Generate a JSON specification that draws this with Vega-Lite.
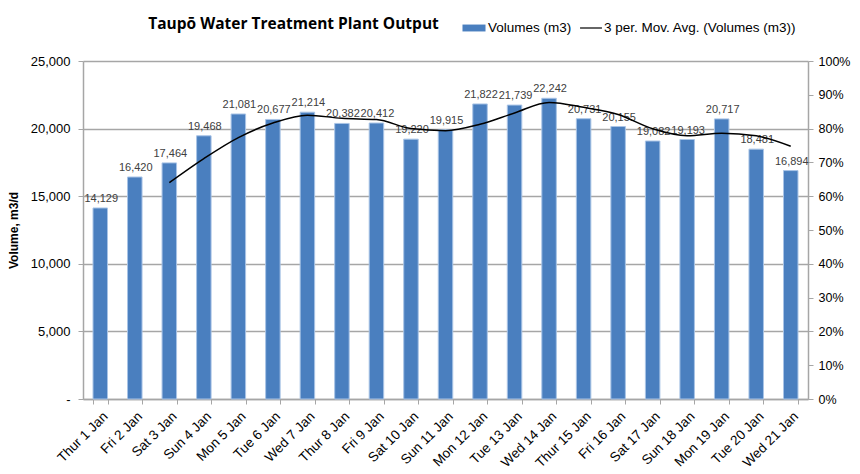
{
  "$schema": "https://vega.github.io/schema/vega-lite/v6.json",
  "autosize": "none",
  "width": 725,
  "height": 338,
  "padding": {"left": 83, "top": 61, "right": 52, "bottom": 75},
  "background": "white",
  "config": {
    "view": {"stroke": null},
    "font": "Liberation Sans",
    "axis": {"labelFont": "Liberation Sans", "titleFont": "Liberation Sans"}
  },
  "title": {
    "text": "Taupō Water Treatment Plant Output",
    "anchor": "start",
    "dx": 141,
    "offset": -16,
    "fontSize": 15.5,
    "font": "Open Sans",
    "fontWeight": "bold",
    "color": "#000000"
  },
  "data": {
    "values": [
      {"day": "Thur 1 Jan", "volume": 14129, "series": "Volumes (m3)", "avgSeries": "3 per. Mov. Avg. (Volumes (m3))"},
      {"day": "Fri 2 Jan", "volume": 16420, "series": "Volumes (m3)", "avgSeries": "3 per. Mov. Avg. (Volumes (m3))"},
      {"day": "Sat 3 Jan", "volume": 17464, "avg": 16004, "series": "Volumes (m3)", "avgSeries": "3 per. Mov. Avg. (Volumes (m3))"},
      {"day": "Sun 4 Jan", "volume": 19468, "avg": 17784, "series": "Volumes (m3)", "avgSeries": "3 per. Mov. Avg. (Volumes (m3))"},
      {"day": "Mon 5 Jan", "volume": 21081, "avg": 19338, "series": "Volumes (m3)", "avgSeries": "3 per. Mov. Avg. (Volumes (m3))"},
      {"day": "Tue 6 Jan", "volume": 20677, "avg": 20409, "series": "Volumes (m3)", "avgSeries": "3 per. Mov. Avg. (Volumes (m3))"},
      {"day": "Wed 7 Jan", "volume": 21214, "avg": 20991, "series": "Volumes (m3)", "avgSeries": "3 per. Mov. Avg. (Volumes (m3))"},
      {"day": "Thur 8 Jan", "volume": 20382, "avg": 20758, "series": "Volumes (m3)", "avgSeries": "3 per. Mov. Avg. (Volumes (m3))"},
      {"day": "Fri 9 Jan", "volume": 20412, "avg": 20669, "series": "Volumes (m3)", "avgSeries": "3 per. Mov. Avg. (Volumes (m3))"},
      {"day": "Sat 10 Jan", "volume": 19220, "avg": 20005, "series": "Volumes (m3)", "avgSeries": "3 per. Mov. Avg. (Volumes (m3))"},
      {"day": "Sun 11 Jan", "volume": 19915, "avg": 19849, "series": "Volumes (m3)", "avgSeries": "3 per. Mov. Avg. (Volumes (m3))"},
      {"day": "Mon 12 Jan", "volume": 21822, "avg": 20319, "series": "Volumes (m3)", "avgSeries": "3 per. Mov. Avg. (Volumes (m3))"},
      {"day": "Tue 13 Jan", "volume": 21739, "avg": 21159, "series": "Volumes (m3)", "avgSeries": "3 per. Mov. Avg. (Volumes (m3))"},
      {"day": "Wed 14 Jan", "volume": 22242, "avg": 21934, "series": "Volumes (m3)", "avgSeries": "3 per. Mov. Avg. (Volumes (m3))"},
      {"day": "Thur 15 Jan", "volume": 20731, "avg": 21571, "series": "Volumes (m3)", "avgSeries": "3 per. Mov. Avg. (Volumes (m3))"},
      {"day": "Fri 16 Jan", "volume": 20155, "avg": 21043, "series": "Volumes (m3)", "avgSeries": "3 per. Mov. Avg. (Volumes (m3))"},
      {"day": "Sat 17 Jan", "volume": 19082, "avg": 19989, "series": "Volumes (m3)", "avgSeries": "3 per. Mov. Avg. (Volumes (m3))"},
      {"day": "Sun 18 Jan", "volume": 19193, "avg": 19477, "series": "Volumes (m3)", "avgSeries": "3 per. Mov. Avg. (Volumes (m3))"},
      {"day": "Mon 19 Jan", "volume": 20717, "avg": 19664, "series": "Volumes (m3)", "avgSeries": "3 per. Mov. Avg. (Volumes (m3))"},
      {"day": "Tue 20 Jan", "volume": 18481, "avg": 19464, "series": "Volumes (m3)", "avgSeries": "3 per. Mov. Avg. (Volumes (m3))"},
      {"day": "Wed 21 Jan", "volume": 16894, "avg": 18697, "series": "Volumes (m3)", "avgSeries": "3 per. Mov. Avg. (Volumes (m3))"}
    ]
  },
  "encoding": {
    "x": {
      "field": "day",
      "type": "nominal",
      "sort": null,
      "scale": {"paddingInner": 0.58, "paddingOuter": 0.29},
      "axis": {
        "title": null,
        "labelAngle": -45,
        "labelAlign": "right",
        "labelBaseline": "top",
        "labelFontSize": 13.5,
        "labelColor": "#000000",
        "labelPadding": 5,
        "tickBand": "extent",
        "tickColor": "#A6A6A6",
        "tickSize": 5,
        "domainColor": "#A6A6A6",
        "domainWidth": 1.5,
        "labelOverlap": false
      }
    }
  },
  "layer": [
    {
      "layer": [
        {
          "mark": {"type": "bar", "color": "#4A7FBF", "stroke": "#A9C4E6", "strokeWidth": 1},
          "encoding": {
            "y": {
              "field": "volume",
              "type": "quantitative",
              "scale": {"domain": [0, 25000], "nice": false},
              "axis": {
                "title": "Volume, m3/d",
                "titleFontSize": 12,
                "titleFontWeight": "bold",
                "titleColor": "#000000",
                "titlePadding": 10,
                "values": [0, 5000, 10000, 15000, 20000, 25000],
                "labelExpr": "datum.value == 0 ? '-' : format(datum.value, ',')",
                "labelFontSize": 13,
                "labelColor": "#000000",
                "labelPadding": 8,
                "tickColor": "#A6A6A6",
                "tickSize": 5,
                "domainColor": "#A6A6A6",
                "domainWidth": 1.5,
                "grid": true,
                "gridColor": "#A6A6A6",
                "gridWidth": 1.5
              }
            },
            "fill": {
              "field": "series",
              "type": "nominal",
              "scale": {"range": ["#4A7FBF"]},
              "legend": {
                "title": null,
                "orient": "none",
                "legendX": 379,
                "legendY": -45,
                "symbolType": "M-1,-0.3H1V0.3H-1Z",
                "symbolSize": 530,
                "symbolStrokeWidth": 0,
                "labelFontSize": 13.5,
                "labelColor": "#000000",
                "labelOffset": 2,
                "labelLimit": 0
              }
            }
          }
        },
        {
          "mark": {"type": "text", "baseline": "bottom", "dy": -4, "dx": 1, "fontSize": 11, "color": "#404040"},
          "encoding": {
            "y": {"field": "volume", "type": "quantitative"},
            "text": {"field": "volume", "type": "quantitative", "format": ","}
          }
        },
        {
          "mark": {"type": "line", "interpolate": "monotone", "color": "#000000", "strokeWidth": 1.5},
          "encoding": {
            "y": {"field": "avg", "type": "quantitative"},
            "stroke": {
              "field": "avgSeries",
              "type": "nominal",
              "scale": {"range": ["#000000"]},
              "legend": {
                "title": null,
                "orient": "none",
                "legendX": 496,
                "legendY": -45,
                "symbolType": "stroke",
                "symbolSize": 480,
                "symbolStrokeWidth": 1.2,
                "labelFontSize": 13.5,
                "labelColor": "#000000",
                "labelOffset": 1,
                "labelLimit": 0
              }
            }
          }
        }
      ]
    },
    {
      "mark": {"type": "rule", "opacity": 0},
      "encoding": {
        "y": {
          "datum": 0,
          "type": "quantitative",
          "scale": {"domain": [0, 1], "nice": false},
          "axis": {
            "orient": "right",
            "title": "Plant Utilisation",
            "titleFontSize": 12,
            "titleFontWeight": "bold",
            "titleColor": "#000000",
            "titlePadding": 10,
            "format": ".0%",
            "values": [0, 0.1, 0.2, 0.3, 0.4, 0.5, 0.6, 0.7, 0.8, 0.9, 1],
            "labelFontSize": 12.5,
            "labelColor": "#000000",
            "labelPadding": 5,
            "tickColor": "#A6A6A6",
            "tickSize": 5,
            "domainColor": "#A6A6A6",
            "domainWidth": 1.5,
            "grid": false
          }
        }
      }
    }
  ],
  "resolve": {"scale": {"y": "independent"}, "legend": {"fill": "independent", "stroke": "independent"}}
}
